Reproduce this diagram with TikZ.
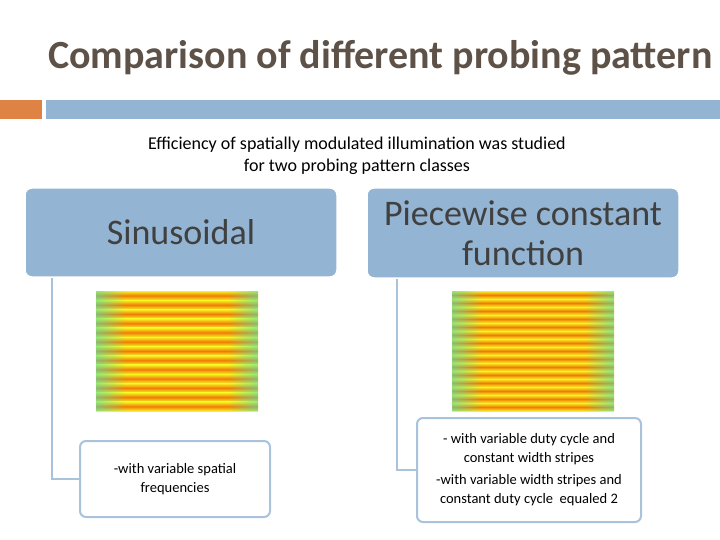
\documentclass[tikz,border=0pt]{standalone}
\usepackage{fontspec}
\setmainfont{Carlito}
\usetikzlibrary{fadings}
\definecolor{titlec}{HTML}{5E5248}
\definecolor{orangebar}{HTML}{DF8344}
\definecolor{bluebar}{HTML}{93B4D2}
\definecolor{boxline}{HTML}{A9C3DC}
\definecolor{hdrtext}{HTML}{404040}
\definecolor{stripeO}{HTML}{F27A08}
\definecolor{stripeY}{HTML}{F6F420}
\definecolor{stripeG}{HTML}{50E0B0}
\tikzset{
 hdr/.style={draw=white,line width=1.5pt,fill=bluebar,rounded corners=7pt,font=\fontsize{36}{40}\selectfont,text=hdrtext,align=center},
 txtbox/.style={draw=boxline,line width=2pt,fill=white,rounded corners=6pt,font=\fontsize{14.5}{19}\selectfont,align=center},
 conn/.style={draw=boxline,line width=1.5pt}
}
\begin{document}
\begin{tikzpicture}[x=1pt,y=-1pt]
\useasboundingbox (0,0) rectangle (720,540);
\node[anchor=west,font=\bfseries\fontsize{40}{44}\selectfont,text=titlec,inner sep=0] (title) at (48,58) {Comparison of different probing pattern};
\fill[orangebar] (0,100) rectangle (42,119);
\fill[bluebar] (46,100) rectangle (720,119);
\node[font=\fontsize{18}{22}\selectfont,align=center] (sub) at (357,156) {Efficiency of spatially modulated illumination was studied\\for two probing pattern classes};
\coordinate (c1) at (52,278);
\coordinate (c2) at (397,278);
\node[txtbox,minimum width=190,minimum height=76] (t1) at (175,479) {-with variable spatial\\frequencies};
\node[txtbox,minimum width=224,minimum height=104] (t2) at (529,470) {- with variable duty cycle and\\constant width stripes\\[3pt]-with variable width stripes and\\constant duty cycle\ \ equaled 2};
\draw[conn] (c1) |- (t1.west);
\draw[conn] (c2) |- (t2.west);
\node[hdr,minimum width=312,minimum height=89] (h1) at (181,232.5) {Sinusoidal};
\node[hdr,minimum width=312,minimum height=90] (h2) at (523,233) {Piecewise constant\\function};
\foreach \x/\n in {96/13,452/15}{
 \pgfmathsetmacro{\h}{120/\n}
 \foreach \i in {0,...,\numexpr\n-1\relax}{
   \shade[top color=stripeY,bottom color=stripeY,middle color=stripeO] (\x,291+\i*\h) rectangle (\x+162,291+\i*\h+\h);
 }
 \fill[stripeG,path fading=east,opacity=0.6] (\x,291) rectangle (\x+30,411);
 \fill[stripeG,path fading=west,opacity=0.6] (\x+132,291) rectangle (\x+162,411);
}
\end{tikzpicture}
\end{document}
